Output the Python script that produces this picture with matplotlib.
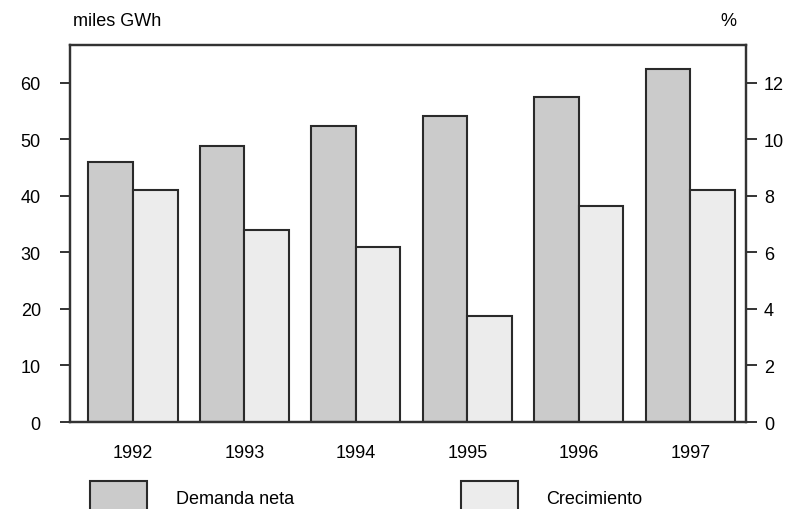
import numpy as np
import matplotlib
matplotlib.use("Agg")
import matplotlib.pyplot as plt
from matplotlib.patches import Rectangle

plt.rcParams['font.family'] = ['Liberation Sans', 'DejaVu Sans']

# data
years = ['1992', '1993', '1994', '1995', '1996', '1997']
demanda = [46.0, 48.9, 52.3, 54.1, 57.5, 62.4]     # miles GWh (left axis)
crecimiento = [8.2, 6.8, 6.2, 3.75, 7.65, 8.2]     # % (right axis)

c_dem = '#cbcbcb'
c_cre = '#ececec'
edge = '#2a2a2a'
spine = '#333333'
fs = 13

W, H = 788, 510
fig = plt.figure(figsize=(W / 100, H / 100), dpi=100)
ax = fig.add_axes([70 / W, 1 - 423 / H, 676 / W, 377 / H])
ax2 = ax.twinx()

x = np.arange(len(years))
ax.bar(x - 0.2, demanda, 0.40, color=c_dem, edgecolor=edge, linewidth=1.5)
ax2.bar(x + 0.2, crecimiento, 0.40, color=c_cre, edgecolor=edge, linewidth=1.5)

ax.set_xlim(-0.565, 5.5)
ax.set_ylim(0, 66.7)
ax2.set_ylim(0, 13.34)
ax.set_yticks(range(0, 61, 10))
ax2.set_yticks(range(0, 13, 2))
ax.set_xticks(x)
ax.set_xticklabels(years)

for a in (ax, ax2):
    for s in a.spines.values():
        s.set_color(spine)
        s.set_linewidth(1.6)
ax.tick_params(axis='x', length=0, pad=16, labelsize=fs, colors='black')
ax.tick_params(axis='y', direction='out', length=7, width=1.4, color=spine,
               pad=14, labelsize=fs)
ax2.tick_params(axis='y', direction='out', length=8, width=1.4, color=spine,
                pad=5, labelsize=fs)

fig.text(73 / W, 1 - 22 / H, 'miles GWh', fontsize=fs, va='center', ha='left')
fig.text(736 / W, 1 - 22 / H, '%', fontsize=fs, va='center', ha='right')

# legend drawn below the plot, boxes run off the bottom edge
for bx, col, lab, tx in [(90, c_dem, 'Demanda neta', 176),
                         (461, c_cre, 'Crecimiento', 546)]:
    fig.add_artist(Rectangle((bx / W, -10 / H), 57 / W, 38 / H,
                             transform=fig.transFigure, facecolor=col,
                             edgecolor=edge, linewidth=1.5))
    fig.text(tx / W, 1 - 500 / H, lab, fontsize=fs, va='center', ha='left')

fig.savefig('out.png', dpi=100)
